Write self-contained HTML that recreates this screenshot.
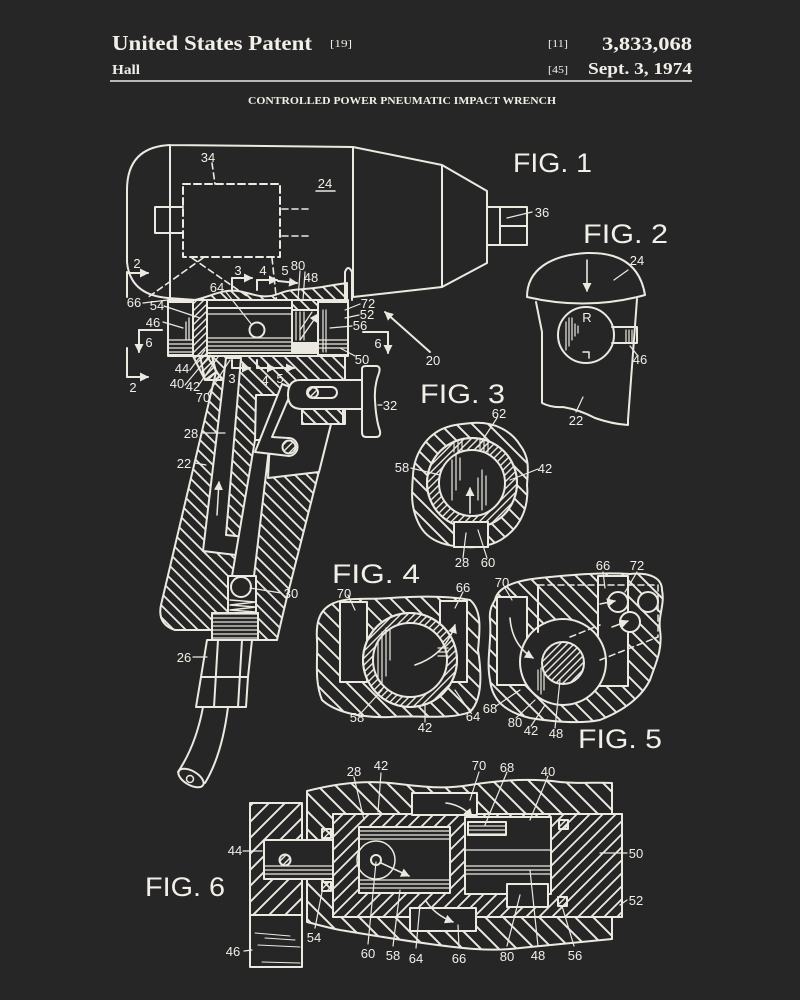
<!DOCTYPE html>
<html><head><meta charset="utf-8">
<style>
html,body{margin:0;padding:0;background:#262626;}
svg{display:block}
</style></head><body>
<svg width="800" height="1000" viewBox="0 0 800 1000" xmlns="http://www.w3.org/2000/svg">
<defs>
<pattern id="hb9" width="12" height="12" patternUnits="userSpaceOnUse"><path d="M0,0 L12,12 M-2,10 L2,14 M10,-2 L14,2" stroke="#ece9e1" stroke-width="1.8"/></pattern>
<pattern id="hf9" width="13" height="13" patternUnits="userSpaceOnUse"><path d="M0,13 L13,0 M-2,2 L2,-2 M11,15 L15,11" stroke="#ece9e1" stroke-width="1.8"/></pattern>
<pattern id="hb12" width="16" height="16" patternUnits="userSpaceOnUse"><path d="M0,0 L16,16 M-2,14 L2,18 M14,-2 L18,2" stroke="#ece9e1" stroke-width="1.9"/></pattern>
<pattern id="hb18" width="18" height="18" patternUnits="userSpaceOnUse"><path d="M0,0 L18,18 M-2,16 L2,20 M16,-2 L20,2" stroke="#ece9e1" stroke-width="2"/></pattern>
<pattern id="hf12" width="16" height="16" patternUnits="userSpaceOnUse"><path d="M0,16 L16,0 M-2,2 L2,-2 M14,18 L18,14" stroke="#ece9e1" stroke-width="1.9"/></pattern>
<pattern id="hf6" width="7" height="7" patternUnits="userSpaceOnUse"><path d="M0,7 L7,0 M-2,2 L2,-2 M5,9 L9,5" stroke="#ece9e1" stroke-width="1.4"/></pattern>
<pattern id="hz4" width="4" height="4" patternUnits="userSpaceOnUse"><line x1="0" y1="2" x2="4" y2="2" stroke="#ece9e1" stroke-width="1.2"/></pattern>
<marker id="ah" markerWidth="9" markerHeight="9" refX="8" refY="4.5" orient="auto" markerUnits="userSpaceOnUse"><path d="M0,0 L9,4.5 L0,9 Z" fill="#ece9e1"/></marker>
</defs>
<rect width="800" height="1000" fill="#262626"/>

<!-- HEADER -->
<g font-family="'Liberation Serif', serif" font-weight="bold" fill="#f2efe8">
<text x="112" y="50" font-size="21" textLength="200" lengthAdjust="spacingAndGlyphs">United States Patent</text>
<text x="330" y="47" font-size="10" font-weight="normal" textLength="22" lengthAdjust="spacingAndGlyphs">[19]</text>
<text x="548" y="47" font-size="10" font-weight="normal" textLength="20" lengthAdjust="spacingAndGlyphs">[11]</text>
<text x="602" y="50" font-size="19" textLength="90" lengthAdjust="spacingAndGlyphs">3,833,068</text>
<text x="112" y="74" font-size="14" textLength="28" lengthAdjust="spacingAndGlyphs">Hall</text>
<text x="548" y="73" font-size="10" font-weight="normal" textLength="20" lengthAdjust="spacingAndGlyphs">[45]</text>
<text x="588" y="74" font-size="17" textLength="104" lengthAdjust="spacingAndGlyphs">Sept. 3, 1974</text>
<text x="248" y="104" font-size="10.5" textLength="308" lengthAdjust="spacingAndGlyphs">CONTROLLED POWER PNEUMATIC IMPACT WRENCH</text>
</g>
<line x1="110" y1="81" x2="692" y2="81" stroke="#ece9e1" stroke-width="1.6"/>

<!-- FIG LABELS -->
<g font-family="'Liberation Sans', sans-serif" fill="#f2efe8" font-size="27">
<text x="513" y="172" textLength="79" lengthAdjust="spacingAndGlyphs">FIG. 1</text>
<text x="583" y="243" textLength="85" lengthAdjust="spacingAndGlyphs">FIG. 2</text>
<text x="420" y="403" textLength="85" lengthAdjust="spacingAndGlyphs">FIG. 3</text>
<text x="332" y="583" textLength="88" lengthAdjust="spacingAndGlyphs">FIG. 4</text>
<text x="578" y="748" textLength="84" lengthAdjust="spacingAndGlyphs">FIG. 5</text>
<text x="145" y="896" textLength="80" lengthAdjust="spacingAndGlyphs">FIG. 6</text>
</g>

<g fill="none" stroke="#ece9e1" stroke-width="2" stroke-linejoin="round" stroke-linecap="round">

<!-- ============ FIG 1 ============ -->
<path d="M170,145 L353,147 L442,165 L487,191 L487,263 L442,287 L353,297 M442,165 L442,287 M353,147 L353,297 M170,145 L170,297 M170,145 Q127,147 127,190 L127,262 Q130,295 168,298 L196,300"/>
<rect x="487" y="207" width="40" height="38"/>
<path d="M500,207 L500,245 M500,226 L527,226"/>
<rect x="183" y="184" width="97" height="73" stroke-dasharray="7,4"/>
<path d="M183,207 L155,207 L155,233 L183,233"/>
<path d="M282,209 L312,209 M282,236 L312,236 M212,163 L215,184 M203,258 L147,298 M192,258 L257,303 M272,258 L281,343" stroke-dasharray="6,4" stroke-width="1.6"/>
<path d="M316,191 L335,191" stroke-width="1.5"/>
<path d="M195,300 C212,296 222,289 238,291 C252,293 262,300 278,294 C292,288 305,290 322,287 C333,285 340,284 347,283 L347,300 Z" fill="url(#hb9)"/>
<path d="M345,300 L345,272 Q348,264 352,272 L352,300"/>
<!-- handle hatched body -->
<path d="M212,356 L345,356 L345,424 L331,424 L287,597 Q281,622 277,640 L258,640 L258,613 L212,613 L212,630 L175,630 Q157,624 161,605 L216,372 Z" fill="url(#hb9)"/>
<path d="M200,356 L212,356 L216,372 L205,380 Z" fill="url(#hf6)"/>
<!-- channel A -->
<path d="M226,358 L241,358 L226,535 L246,537 L244,556 L203,551 Z" fill="#262626"/>
<line x1="217" y1="515" x2="219" y2="482" stroke-width="1.5" marker-end="url(#ah)"/>
<!-- bore -->
<path d="M255,440 L270,440 L254,576 L232,576 Z" fill="#262626"/>
<rect x="228" y="576" width="28" height="37" fill="#262626"/>
<circle cx="241" cy="587" r="10" fill="#262626"/>
<path d="M230,600 L256,602 L230,605 L256,607 L230,610 L256,612" stroke-width="1.4"/>
<rect x="212" y="613" width="46" height="27" fill="url(#hz4)"/>
<!-- trigger chamber -->
<path d="M256,395 L302,395 L302,424 L331,424 L319,472 L268,478 L270,440 L255,440 Z" fill="#262626"/>
<path d="M282,384 L293,388 L272,437 L288,438 A9,9 0 0 1 289,456 L255,452 Z" fill="#262626"/>
<circle cx="289" cy="447" r="6.5" fill="url(#hf6)"/>
<!-- valve box -->
<rect x="168" y="300" width="180" height="56" fill="#262626"/>
<rect x="168" y="302" width="25" height="53" />
<path d="M168,340 L193,340 M168,344 L193,344 M168,348 L193,348 M168,352 L193,352 M186,322 L186,340 M189,318 L189,340" stroke-width="1.3"/>
<path d="M193,300 L207,300 L207,356 L193,356 Z" fill="url(#hf6)"/>
<path d="M193,356 L207,356 L222,380 L205,380 Z" fill="url(#hf6)"/>
<rect x="207" y="308" width="85" height="45"/>
<path d="M207,314 L292,314 M207,338 L292,338 M207,342 L292,342 M207,346 L292,346 M207,350 L292,350" stroke-width="1.2"/>
<circle cx="257" cy="330" r="7.5"/>
<path d="M292,300 L318,300 L318,310 L292,310 Z" fill="url(#hb9)"/>
<rect x="292" y="343" width="26" height="10" fill="#ece9e1"/>
<path d="M296,312 L296,340 M300,312 L300,340 M304,312 L304,340 M300,330 L312,312" stroke-width="1.2"/>
<rect x="318" y="302" width="30" height="53"/>
<path d="M323,310 L323,352 M326,310 L326,352 M318,340 L348,340 M318,344 L348,344 M318,348 L348,348" stroke-width="1.2"/>
<!-- trigger -->
<path d="M300,380 L362,380 L362,409 L302,409 Q288,409 288,395 Q288,380 300,380 Z" fill="#262626"/>
<path d="M362,369 Q362,366 366,366 L376,366 Q381,366 379,373 Q374,386 375,400 Q376,420 380,431 Q381,437 376,437 L366,437 Q362,437 362,432 Z" fill="#262626"/>
<rect x="307" y="387" width="30" height="11" rx="5.5"/>
<circle cx="313" cy="392.5" r="5" fill="url(#hf6)"/>
<rect x="302" y="409" width="41" height="15" fill="url(#hb9)"/>
<!-- hose -->
<path d="M207,640 L252,640 L248,677 L201,677 Z"/>
<path d="M201,677 L248,677 L246,707 L196,707 Z"/>
<path d="M218,640 L214,707 M242,640 L238,707"/>
<path d="M203,707 Q196,745 178,772 M228,707 Q222,755 205,783"/>
<ellipse cx="191" cy="778" rx="14" ry="7" transform="rotate(30 191 778)"/>
<circle cx="190" cy="779" r="3.5" stroke-width="1.5"/>

<!-- section marks fig1 -->
<path d="M127,272 L127,297"/>
<line x1="127" y1="273" x2="148" y2="273" marker-end="url(#ah)"/>
<path d="M127,348 L127,377"/>
<line x1="127" y1="377" x2="148" y2="377" marker-end="url(#ah)"/>
<path d="M162,330 L139,330"/>
<line x1="139" y1="330" x2="139" y2="352" marker-end="url(#ah)"/>
<path d="M363,332 L388,332"/>
<line x1="388" y1="332" x2="388" y2="353" marker-end="url(#ah)"/>
<path d="M232,290 L232,278"/>
<line x1="232" y1="278" x2="252" y2="278" marker-end="url(#ah)"/>
<path d="M257,290 L257,280"/>
<line x1="257" y1="280" x2="277" y2="280" marker-end="url(#ah)"/>
<line x1="278" y1="281" x2="297" y2="283" marker-end="url(#ah)"/>
<path d="M232,360 L232,368 M257,360 L257,368"/>
<line x1="232" y1="368" x2="250" y2="368" marker-end="url(#ah)"/>
<line x1="257" y1="368" x2="275" y2="368" marker-end="url(#ah)"/>
<line x1="276" y1="368" x2="294" y2="368" marker-end="url(#ah)"/>
<line x1="430" y1="352" x2="385" y2="312" marker-end="url(#ah)"/>
<line x1="300" y1="340" x2="318" y2="314" stroke-width="1.4" marker-end="url(#ah)"/>
<g stroke-width="1.2">
<path d="M507,218 L532,212 M143,303 L168,300 M164,306 L200,318 M163,322 L183,328 M226,292 L252,325 M300,271 L298,300 M305,272 L303,300 M360,304 L345,310 M359,315 L345,318 M352,326 L330,328 M355,356 L340,348 M190,370 L205,350 M185,385 L210,355 M198,386 L218,357 M208,394 L230,360 M382,405 L378,405 M203,433 L225,433 M195,463 L206,465 M281,593 L250,588 M193,657 L207,657"/>
</g>

<!-- ============ FIG 2 ============ -->
<path d="M527,297 C527,270 550,255 587,253 C620,252 640,265 645,295 Q587,311 527,297 Z"/>
<path d="M536,302 L542,332 L542,403 Q552,408 563,407 Q580,410 595,418 Q612,424 628,425 L628,420 L637,299"/>
<circle cx="586" cy="335" r="28"/>
<path d="M612,327 L637,327 L637,343 L612,343"/>
<path d="M626,330 L626,342 M629,330 L629,342 M632,330 L632,342" stroke-width="1.2"/>
<path d="M566,322 L566,350 M569,318 L569,346 M572,318 L572,340 M575,324 L575,336 M578,326 L578,333" stroke-width="1.2"/>
<path d="M583,352 L589,352 L589,358" stroke-width="1.5"/>
<line x1="587" y1="260" x2="587" y2="291" stroke-width="1.6" marker-end="url(#ah)"/>
<path d="M628,270 L614,280 M630,346 L638,356 M576,412 L583,397" stroke-width="1.2"/>

<!-- ============ FIG 3 ============ -->
<path d="M472,423 C495,421 512,432 520,445 C530,458 528,470 527,485 C529,505 522,525 505,537 C495,545 480,548 465,547 C440,546 425,538 418,522 C410,505 412,490 413,475 C414,455 425,438 440,430 C450,425 460,424 472,423 Z" fill="url(#hb12)"/>
<circle cx="472" cy="483" r="45" fill="#262626"/>
<circle cx="472" cy="483" r="45" fill="url(#hf6)"/>
<circle cx="472" cy="483" r="33" fill="#262626"/>
<rect x="454" y="522" width="34" height="25" fill="#262626"/>
<path d="M454,522 L454,547 M488,522 L488,547"/>
<path d="M452,460 L452,500 M456,455 L456,490 M460,458 L460,480 M482,470 L482,510 M486,476 L486,505 M478,478 L478,500" stroke-width="1.2"/>
<path d="M454,441 L454,452 M458,440 L458,451 M462,439 L462,450 M480,439 L480,450 M484,440 L484,451 M488,441 L488,452" stroke-width="1.2"/>
<line x1="470" y1="513" x2="470" y2="488" stroke-width="1.6" marker-end="url(#ah)"/>
<path d="M497,418 L478,447 M411,468 L440,475 M538,469 L510,480 M463,558 L466,533 M487,558 L478,530" stroke-width="1.2"/>

<!-- ============ FIG 4 ============ -->
<path d="M330,605 C345,596 365,600 390,598 C420,596 450,596 470,600 C482,610 480,630 478,650 C482,675 482,700 470,712 C450,720 420,715 390,717 C360,718 335,712 322,700 C314,680 318,660 317,640 C316,625 318,612 330,605 Z" fill="url(#hb12)"/>
<rect x="340" y="602" width="27" height="80" fill="#262626"/>
<rect x="440" y="601" width="27" height="81" fill="#262626"/>
<circle cx="410" cy="660" r="47" fill="#262626"/>
<circle cx="410" cy="660" r="47" fill="url(#hf6)"/>
<circle cx="410" cy="660" r="37" fill="#262626"/>
<path d="M378,640 L378,680 M382,632 L382,684 M386,628 L386,676 M390,630 L390,660 M438,648 L448,648 M438,652 L448,652 M438,656 L448,656" stroke-width="1.2"/>
<path d="M415,665 Q445,655 455,625" marker-end="url(#ah)" stroke-width="1.6"/>
<path d="M348,595 L355,610 M463,592 L455,608 M362,712 L382,690 M425,722 L425,705 M470,712 L455,690" stroke-width="1.2"/>

<!-- ============ FIG 5 ============ -->
<path d="M495,600 C498,585 520,580 540,578 C570,575 600,572 630,574 C650,572 662,578 662,590 C665,605 658,615 660,630 C663,650 655,665 650,680 C640,700 620,712 600,720 C580,724 555,722 530,718 C505,712 492,700 490,680 C486,660 492,640 490,620 C489,610 492,605 495,600 Z" fill="url(#hb12)"/>
<rect x="497" y="597" width="30" height="88" fill="#262626"/>
<rect x="598" y="576" width="30" height="110" fill="#262626"/>
<circle cx="563" cy="662" r="43" fill="#262626"/>
<circle cx="563" cy="663" r="21" fill="url(#hf6)"/>
<path d="M538,585 L538,632"/>
<path d="M538,585 L658,585 L658,637 M570,637 L600,625 M600,660 L658,637" stroke-dasharray="6,4" stroke-width="1.5"/>
<circle cx="618" cy="602" r="10" fill="#262626"/>
<circle cx="648" cy="602" r="10" fill="#262626"/>
<circle cx="630" cy="622" r="10" fill="#262626"/>
<path d="M510,618 Q512,645 533,658" marker-end="url(#ah)" stroke-width="1.6"/>
<line x1="600" y1="604" x2="615" y2="601" marker-end="url(#ah)" stroke-width="1.5"/>
<line x1="612" y1="627" x2="628" y2="621" marker-end="url(#ah)" stroke-width="1.5"/>
<path d="M538,670 L538,690 M541,668 L541,694 M544,672 L544,690" stroke-width="1.2"/>
<path d="M505,588 L512,600 M603,572 L605,588 M637,572 L625,592 M496,706 L520,690 M516,718 L535,700 M531,726 L545,705 M555,728 L560,680" stroke-width="1.2"/>

<!-- ============ FIG 6 ============ -->
<path d="M307,791 C330,785 360,780 390,783 C420,786 440,790 470,785 C500,780 530,778 560,782 C580,784 598,782 612,783 L612,939 C580,942 550,945 520,948 C490,952 460,948 430,944 C400,940 370,935 340,930 C325,927 315,924 307,922 Z" fill="url(#hb18)"/>
<rect x="333" y="814" width="289" height="103" fill="#262626"/>
<rect x="333" y="814" width="289" height="103" fill="url(#hf9)"/>
<rect x="250" y="803" width="52" height="112" fill="url(#hf12)"/>
<rect x="250" y="915" width="52" height="52" fill="#262626"/>
<path d="M255,933 L290,936 M265,938 L295,940 M258,945 L300,947 M262,962 L300,963" stroke-width="1"/>
<rect x="264" y="840" width="69" height="39" fill="#262626"/>
<path d="M264,866 L333,866 M264,870 L333,870 M264,874 L333,874" stroke-width="1.2"/>
<circle cx="285" cy="860" r="5.5" fill="url(#hf6)"/>
<rect x="412" y="793" width="65" height="22" fill="#262626"/>
<rect x="410" y="908" width="66" height="23" fill="#262626"/>
<rect x="359" y="827" width="91" height="66" fill="#262626"/>
<path d="M359,831 L450,831 M359,835 L450,835 M359,839 L450,839 M359,880 L450,880 M359,884 L450,884 M359,888 L450,888" stroke-width="1.2"/>
<circle cx="376" cy="860" r="19" stroke-width="1.5"/>
<circle cx="376" cy="860" r="5"/>
<line x1="381" y1="863" x2="409" y2="876" marker-end="url(#ah)" stroke-width="1.6"/>
<rect x="465" y="817" width="86" height="77" fill="#262626"/>
<path d="M465,850 L551,850 M465,866 L551,866 M465,870 L551,870 M465,874 L551,874" stroke-width="1.2"/>
<rect x="468" y="822" width="38" height="13" fill="url(#hz4)"/>
<rect x="507" y="884" width="41" height="23" fill="#262626"/>
<path d="M446,803 Q462,805 472,817" marker-end="url(#ah)" stroke-width="1.6"/>
<path d="M426,901 Q435,915 453,922" marker-end="url(#ah)" stroke-width="1.6"/>
<rect x="322" y="829" width="9" height="9" fill="url(#hf6)"/>
<rect x="322" y="882" width="9" height="9" fill="url(#hf6)"/>
<rect x="559" y="820" width="9" height="9" fill="url(#hf6)"/>
<rect x="558" y="897" width="9" height="9" fill="url(#hf6)"/>
<path d="M243,851 L262,851 M627,853 L600,853 M627,900 L620,905 M244,951 L252,950 M315,928 L322,892 M368,944 L376,862 M393,946 L400,890 M416,948 L420,905 M459,948 L458,925 M507,946 L520,895 M538,946 L530,870 M574,946 L562,906 M354,777 L364,820 M381,773 L378,812 M479,772 L470,800 M507,772 L485,825 M548,776 L530,820" stroke-width="1.2"/>
</g>

<!-- NUMERIC LABELS -->
<g font-family="'Liberation Sans', sans-serif" font-size="13" fill="#f2efe8" text-anchor="middle">
<text x="208" y="162">34</text>
<text x="325" y="188">24</text>
<text x="542" y="217">36</text>
<text x="137" y="268">2</text>
<text x="134" y="307">66</text>
<text x="157" y="310">54</text>
<text x="153" y="327">46</text>
<text x="149" y="347">6</text>
<text x="133" y="392">2</text>
<text x="217" y="292">64</text>
<text x="238" y="275">3</text>
<text x="263" y="275">4</text>
<text x="285" y="275">5</text>
<text x="298" y="270">80</text>
<text x="311" y="282">48</text>
<text x="368" y="308">72</text>
<text x="367" y="319">52</text>
<text x="360" y="330">56</text>
<text x="378" y="348">6</text>
<text x="362" y="364">50</text>
<text x="433" y="365">20</text>
<text x="182" y="373">44</text>
<text x="177" y="388">40</text>
<text x="193" y="391">42</text>
<text x="203" y="402">70</text>
<text x="232" y="383">3</text>
<text x="265" y="385">4</text>
<text x="280" y="383">5</text>
<text x="390" y="410">32</text>
<text x="191" y="438">28</text>
<text x="184" y="468">22</text>
<text x="291" y="598">30</text>
<text x="184" y="662">26</text>

<text x="637" y="265">24</text>
<text x="640" y="364">46</text>
<text x="576" y="425">22</text>
<text x="587" y="322">R</text>

<text x="499" y="418">62</text>
<text x="402" y="472">58</text>
<text x="545" y="473">42</text>
<text x="462" y="567">28</text>
<text x="488" y="567">60</text>

<text x="344" y="598">70</text>
<text x="463" y="592">66</text>
<text x="357" y="722">58</text>
<text x="425" y="732">42</text>
<text x="473" y="721">64</text>

<text x="502" y="587">70</text>
<text x="603" y="570">66</text>
<text x="637" y="570">72</text>
<text x="490" y="713">68</text>
<text x="515" y="727">80</text>
<text x="531" y="735">42</text>
<text x="556" y="738">48</text>

<text x="354" y="776">28</text>
<text x="381" y="770">42</text>
<text x="479" y="770">70</text>
<text x="507" y="772">68</text>
<text x="548" y="776">40</text>
<text x="235" y="855">44</text>
<text x="636" y="858">50</text>
<text x="636" y="905">52</text>
<text x="233" y="956">46</text>
<text x="314" y="942">54</text>
<text x="368" y="958">60</text>
<text x="393" y="960">58</text>
<text x="416" y="963">64</text>
<text x="459" y="963">66</text>
<text x="507" y="961">80</text>
<text x="538" y="960">48</text>
<text x="575" y="960">56</text>
</g>
</svg>
</body></html>
